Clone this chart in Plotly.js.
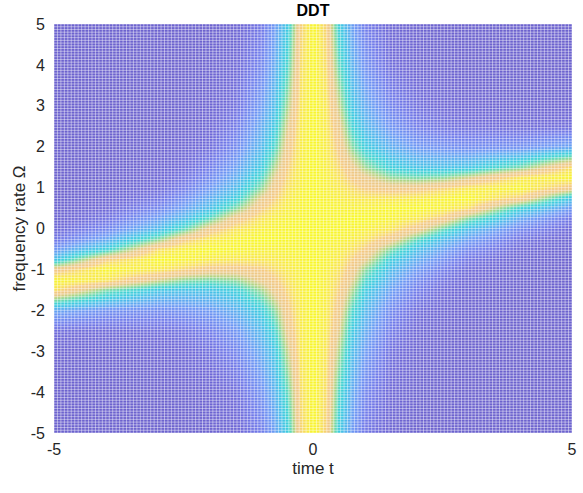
<!DOCTYPE html>
<html>
<head>
<meta charset="utf-8">
<script src="https://cdn.plot.ly/plotly-3.0.1.min.js"></script>
<style>html,body{margin:0;padding:0;background:#fff;}#chart{width:583px;height:493px;}</style>
</head>
<body>
<div id="chart"></div>
<script>
// time axis samples (t) and frequency-rate samples (Omega)
const timeT = [-5,-4,-3,-2.5,-2,-1.5,-1,-0.75,-0.5,-0.25,0,0.25,0.5,0.75,1,1.5,2,2.5,3,4,5];
const rateOmega = [-5,-4,-3,-2.5,-2,-1.5,-1.25,-1,-0.75,-0.5,-0.25,0,0.25,0.5,0.75,1,1.25,1.5,2,2.5,3,4,5];

// DDT magnitude, one array per time sample (values along Omega, bottom to top)
const ddt_tm5   = [0,0,0.015,0.06,0.27,0.91,0.99,0.79,0.38,0.21,0.095,0.045,0.02,0.01,0,0,0,0,0,0,0,0,0];
const ddt_tm4   = [0,0,0.015,0.05,0.19,0.58,0.93,0.99,0.84,0.46,0.27,0.15,0.08,0.045,0.02,0.01,0.01,0,0,0,0,0,0];
const ddt_tm3   = [0,0,0.025,0.065,0.17,0.40,0.70,0.94,1.0,0.90,0.60,0.36,0.24,0.15,0.09,0.055,0.035,0.02,0.01,0,0,0,0];
const ddt_tm2_5 = [0,0.01,0.04,0.08,0.19,0.38,0.60,0.87,0.98,0.97,0.83,0.55,0.35,0.25,0.18,0.12,0.08,0.05,0.03,0.01,0.01,0,0];
const ddt_tm2   = [0.01,0.02,0.07,0.12,0.22,0.39,0.57,0.81,0.95,1.0,0.94,0.79,0.54,0.37,0.29,0.22,0.16,0.12,0.06,0.035,0.02,0.01,0];
const ddt_tm1_5 = [0.03,0.06,0.14,0.20,0.30,0.45,0.61,0.80,0.93,0.99,0.98,0.92,0.79,0.59,0.44,0.35,0.29,0.24,0.16,0.11,0.07,0.04,0.02];
const ddt_tm1   = [0.12,0.19,0.28,0.34,0.44,0.63,0.76,0.84,0.93,0.97,1.0,0.97,0.92,0.84,0.75,0.61,0.51,0.43,0.34,0.28,0.23,0.15,0.10];
const ddt_tm0_75= [0.24,0.31,0.40,0.48,0.60,0.77,0.83,0.89,0.94,0.97,1.0,0.98,0.96,0.91,0.85,0.80,0.73,0.65,0.51,0.42,0.36,0.28,0.22];
const ddt_tm0_5 = [0.44,0.54,0.68,0.76,0.82,0.88,0.91,0.94,0.96,0.98,0.99,0.99,0.98,0.96,0.94,0.91,0.88,0.85,0.79,0.72,0.64,0.51,0.42];
const ddt_tm0_25= [0.86,0.89,0.93,0.94,0.95,0.96,0.97,0.97,0.98,0.99,0.99,1.0,0.99,0.98,0.98,0.97,0.96,0.96,0.95,0.94,0.92,0.89,0.85];
const ddt_t0    = [1,1,1,1,1,1,1,1,1,1,1,1,1,1,1,1,1,1,1,1,1,1,1];
const ddt_t0_25 = [0.85,0.89,0.92,0.94,0.95,0.96,0.96,0.97,0.98,0.98,0.99,1.0,0.99,0.99,0.98,0.97,0.97,0.96,0.95,0.94,0.93,0.89,0.86];
const ddt_t0_5  = [0.42,0.51,0.64,0.72,0.79,0.85,0.88,0.91,0.94,0.96,0.98,0.99,0.99,0.98,0.96,0.94,0.91,0.88,0.82,0.76,0.68,0.54,0.44];
const ddt_t0_75 = [0.22,0.28,0.36,0.42,0.51,0.65,0.73,0.80,0.85,0.91,0.96,0.98,1.0,0.97,0.94,0.89,0.83,0.77,0.60,0.48,0.40,0.31,0.24];
const ddt_t1    = [0.10,0.15,0.23,0.28,0.34,0.43,0.51,0.61,0.75,0.84,0.92,0.97,1.0,0.97,0.93,0.84,0.76,0.63,0.44,0.34,0.28,0.19,0.12];
const ddt_t1_5  = [0.02,0.04,0.07,0.11,0.16,0.24,0.29,0.35,0.44,0.59,0.79,0.92,0.98,0.99,0.93,0.80,0.61,0.45,0.30,0.20,0.14,0.06,0.03];
const ddt_t2    = [0,0.01,0.02,0.035,0.06,0.12,0.16,0.22,0.29,0.37,0.54,0.79,0.94,1.0,0.95,0.81,0.57,0.39,0.22,0.12,0.07,0.02,0.01];
const ddt_t2_5  = [0,0,0.01,0.01,0.03,0.05,0.08,0.12,0.18,0.25,0.35,0.55,0.83,0.97,0.98,0.87,0.60,0.38,0.19,0.08,0.04,0.01,0];
const ddt_t3    = [0,0,0,0,0.01,0.02,0.035,0.055,0.09,0.15,0.24,0.36,0.60,0.90,1.0,0.94,0.70,0.40,0.17,0.065,0.025,0,0];
const ddt_t4    = [0,0,0,0,0,0,0.01,0.01,0.02,0.045,0.08,0.15,0.27,0.46,0.84,0.99,0.93,0.58,0.19,0.05,0.015,0,0];
const ddt_t5    = [0,0,0,0,0,0,0,0,0,0.01,0.02,0.045,0.095,0.21,0.38,0.79,0.99,0.91,0.27,0.06,0.015,0,0];

const xTickVals = [-5,0,5];
const yTickVals = [-5,-4,-3,-2,-1,0,1,2,3,4,5];

const columns = [ddt_tm5,ddt_tm4,ddt_tm3,ddt_tm2_5,ddt_tm2,ddt_tm1_5,ddt_tm1,ddt_tm0_75,ddt_tm0_5,ddt_tm0_25,
                 ddt_t0,ddt_t0_25,ddt_t0_5,ddt_t0_75,ddt_t1,ddt_t1_5,ddt_t2,ddt_t2_5,ddt_t3,ddt_t4,ddt_t5];

// washed-out parula look
const parulaLight = [
  [0.00,'rgb(108,98,206)'],
  [0.05,'rgb(110,104,216)'],
  [0.12,'rgb(112,122,234)'],
  [0.22,'rgb(108,150,244)'],
  [0.32,'rgb(85,178,238)'],
  [0.42,'rgb(62,200,226)'],
  [0.50,'rgb(68,212,208)'],
  [0.58,'rgb(115,217,168)'],
  [0.66,'rgb(180,212,130)'],
  [0.74,'rgb(232,200,135)'],
  [0.84,'rgb(244,200,130)'],
  [0.92,'rgb(248,228,80)'],
  [1.00,'rgb(248,248,40)']
];

// surface mesh texture
const meshCount = 150;
const meshStep = 10 / meshCount;
let meshPath = '';
for (let k = 0; k <= meshCount; k++) {
  const v = (-5 + k * meshStep).toFixed(4);
  meshPath += 'M' + v + ',-5L' + v + ',5M-5,' + v + 'L5,' + v;
}

const font = 'Liberation Sans, Arial, Helvetica, sans-serif';

const trace = {
  type: 'heatmap',
  x: timeT,
  y: rateOmega,
  z: columns,
  transpose: true,
  zmin: 0, zmax: 1,
  zsmooth: 'best',
  colorscale: parulaLight,
  showscale: false,
  hoverinfo: 'skip'
};

const layout = {
  width: 583, height: 493,
  margin: {l: 54, r: 11, t: 24, b: 60},
  paper_bgcolor: '#fff',
  plot_bgcolor: '#fff',
  font: {family: font, color: '#262626', size: 16},
  title: {text: '<b>DDT</b>', font: {family: font, size: 16, color: '#000'},
          x: 0.5, xref: 'paper', y: 1 - 10/493, yref: 'container', yanchor: 'middle'},
  xaxis: {range: [-5, 5], tickvals: xTickVals, ticktext: xTickVals.map(String),
          ticks: '', showgrid: false, zeroline: false, showline: false,
          ticklabelstandoff: 5,
          tickfont: {size: 16, color: '#262626'},
          title: {text: 'time t', font: {size: 17, color: '#262626'}, standoff: 5}},
  yaxis: {range: [-5, 5], tickvals: yTickVals, ticktext: yTickVals.map(String),
          ticks: '', showgrid: false, zeroline: false, showline: false,
          ticklabelstandoff: 8,
          tickfont: {size: 16, color: '#262626'},
          title: {text: 'frequency rate Ω', font: {size: 17, color: '#262626'}, standoff: 0}},
  shapes: [{type: 'path', path: meshPath, xref: 'x', yref: 'y', layer: 'above',
            line: {color: 'rgba(255,255,255,0.45)', width: 1}}]
};

Plotly.newPlot('chart', [trace], layout, {displayModeBar: false, staticPlot: true});
</script>
</body>
</html>
